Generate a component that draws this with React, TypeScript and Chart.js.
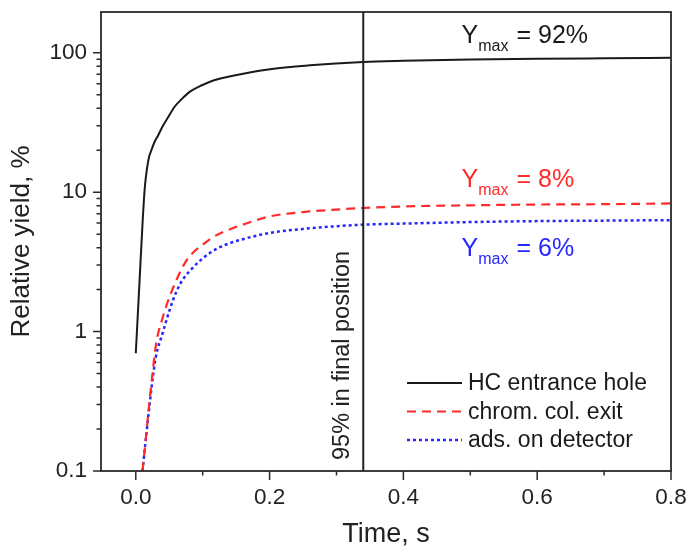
import React, { useEffect, useRef } from 'react';
import { Chart, registerables } from 'chart.js';

Chart.register(...registerables);

const FONT = '"Liberation Sans", Arial, Helvetica, sans-serif';

// Time axis (s) and relative yields (%)
const TIME_HC = [0, 0.006, 0.0105, 0.0135, 0.0165, 0.02, 0.024, 0.028, 0.033, 0.04, 0.048, 0.058, 0.068, 0.081, 0.098, 0.118, 0.138, 0.198, 0.26, 0.34, 0.4, 0.5, 0.6, 0.7, 0.8];
const YIELD_HC = [0.7, 2.5, 6.5, 10.8, 14.5, 18, 20.4, 22.9, 25.3, 29.6, 34.3, 41, 46.2, 52.6, 58.2, 63.8, 67.3, 75.9, 81.3, 85.9, 87.5, 89.3, 90.5, 91.3, 92];

const TIME_LATE = [0.01, 0.015, 0.02, 0.025, 0.03, 0.04, 0.05, 0.06, 0.07, 0.08, 0.1, 0.12, 0.14, 0.16, 0.2, 0.25, 0.3, 0.34, 0.4, 0.5, 0.6, 0.7, 0.8];
const YIELD_EXIT = [0.1, 0.17, 0.3, 0.5, 0.8, 1.25, 1.75, 2.3, 2.9, 3.45, 4.2, 4.9, 5.4, 5.85, 6.7, 7.2, 7.5, 7.7, 7.9, 8.05, 8.15, 8.2, 8.3];
const YIELD_DET = [0.1, 0.17, 0.28, 0.45, 0.66, 0.97, 1.4, 1.9, 2.35, 2.7, 3.35, 3.9, 4.3, 4.6, 5.1, 5.45, 5.7, 5.85, 5.95, 6.1, 6.2, 6.25, 6.3];

const SERIES_LABELS = ['HC entrance hole', 'chrom. col. exit', 'ads. on detector'];
const SERIES_COLORS = ['#1a1a1a', '#ff2b2b', '#2626ff'];

const X_TICKS = [0, 0.2, 0.4, 0.6, 0.8];
const X_MINOR = [0.1, 0.3, 0.5, 0.7];
const Y_TICKS = [0.1, 1, 10, 100];
const Y_MINOR = [0.2, 0.3, 0.4, 0.5, 0.6, 0.7, 0.8, 0.9, 2, 3, 4, 5, 6, 7, 8, 9, 20, 30, 40, 50, 60, 70, 80, 90];

const MARKER_TIME = 0.34;
const MARKER_LABEL = '95% in final position';

const YMAX_VALUES = ['= 92%', '= 8%', '= 6%'];
const YMAX_AT_X = [0.487, 0.487, 0.487];
const YMAX_AT_Y = [118, 10.9, 3.5];

const decorPlugin = {
  id: 'decor',
  afterDatasetsDraw(chart: any) {
    const { ctx, chartArea: a, scales } = chart;
    const x = scales.x;
    const y = scales.y;
    ctx.save();

    // vertical marker line
    const mx = x.getPixelForValue(MARKER_TIME);
    ctx.strokeStyle = '#222';
    ctx.lineWidth = 2;
    ctx.setLineDash([]);
    ctx.beginPath();
    ctx.moveTo(mx, a.top);
    ctx.lineTo(mx, a.bottom);
    ctx.stroke();

    // rotated marker label
    ctx.save();
    ctx.translate(mx - 14, a.bottom - 11);
    ctx.rotate(-Math.PI / 2);
    ctx.font = `23.5px ${FONT}`;
    ctx.fillStyle = '#222';
    ctx.textAlign = 'left';
    ctx.textBaseline = 'alphabetic';
    ctx.fillText(MARKER_LABEL, 0, 0);
    ctx.restore();

    // Y_max labels
    YMAX_VALUES.forEach((txt, i) => {
      const px = x.getPixelForValue(YMAX_AT_X[i]);
      const py = y.getPixelForValue(YMAX_AT_Y[i]);
      ctx.fillStyle = SERIES_COLORS[i];
      ctx.textAlign = 'left';
      ctx.textBaseline = 'alphabetic';
      ctx.font = `25px ${FONT}`;
      ctx.fillText('Y', px, py);
      const w1 = ctx.measureText('Y').width;
      ctx.font = `16px ${FONT}`;
      ctx.fillText('max', px + w1, py + 8.5);
      const w2 = ctx.measureText('max').width;
      ctx.font = `25px ${FONT}`;
      ctx.fillText(txt, px + w1 + w2 + 8, py);
    });

    // legend (inside plot, bottom right)
    const datasets = chart.data.datasets;
    const lx0 = a.right - 264;
    const lx1 = lx0 + 55;
    datasets.forEach((ds: any, i: number) => {
      const ly = a.bottom - 88 + i * 28.5;
      ctx.strokeStyle = ds.borderColor;
      ctx.lineWidth = ds.borderWidth;
      ctx.setLineDash(ds.borderDash || []);
      ctx.beginPath();
      ctx.moveTo(lx0, ly);
      ctx.lineTo(lx1, ly);
      ctx.stroke();
      ctx.setLineDash([]);
      ctx.fillStyle = '#1a1a1a';
      ctx.font = `23px ${FONT}`;
      ctx.textAlign = 'left';
      ctx.textBaseline = 'middle';
      ctx.fillText(ds.label, lx1 + 6, ly + 1);
    });

    // frame
    ctx.strokeStyle = '#2a2a2a';
    ctx.lineWidth = 1.8;
    ctx.setLineDash([]);
    ctx.strokeRect(a.left, a.top, a.right - a.left, a.bottom - a.top);

    // ticks
    ctx.lineWidth = 1.5;
    ctx.beginPath();
    X_TICKS.forEach((v) => {
      const p = x.getPixelForValue(v);
      ctx.moveTo(p, a.bottom);
      ctx.lineTo(p, a.bottom + 9);
    });
    X_MINOR.forEach((v) => {
      const p = x.getPixelForValue(v);
      ctx.moveTo(p, a.bottom);
      ctx.lineTo(p, a.bottom + 4.5);
    });
    Y_TICKS.forEach((v) => {
      const p = y.getPixelForValue(v);
      ctx.moveTo(a.left, p);
      ctx.lineTo(a.left - 8, p);
    });
    Y_MINOR.forEach((v) => {
      const p = y.getPixelForValue(v);
      if (p < a.top) return;
      ctx.moveTo(a.left, p);
      ctx.lineTo(a.left - 4.5, p);
    });
    ctx.stroke();

    ctx.restore();
  },
};

export default function App() {
  const ref = useRef<HTMLCanvasElement>(null);

  useEffect(() => {
    if (!ref.current) return;
    const chart = new Chart(ref.current, {
      type: 'line',
      data: {
        datasets: [
          {
            label: SERIES_LABELS[0],
            data: TIME_HC.map((t, i) => ({ x: t, y: YIELD_HC[i] })),
            borderColor: SERIES_COLORS[0],
            borderWidth: 2,
            pointRadius: 0,
            cubicInterpolationMode: 'monotone',
            fill: false,
          },
          {
            label: SERIES_LABELS[1],
            data: TIME_LATE.map((t, i) => ({ x: t, y: YIELD_EXIT[i] })),
            borderColor: SERIES_COLORS[1],
            borderWidth: 2.2,
            borderDash: [9, 6],
            pointRadius: 0,
            cubicInterpolationMode: 'monotone',
            fill: false,
          },
          {
            label: SERIES_LABELS[2],
            data: TIME_LATE.map((t, i) => ({ x: t, y: YIELD_DET[i] })),
            borderColor: SERIES_COLORS[2],
            borderWidth: 2.5,
            borderDash: [3, 3],
            pointRadius: 0,
            cubicInterpolationMode: 'monotone',
            fill: false,
          },
        ],
      },
      options: {
        animation: false,
        responsive: false,
        devicePixelRatio: 1,
        layout: { padding: { top: 12, right: 19, left: 0, bottom: 0 } },
        plugins: {
          legend: { display: false },
          tooltip: { enabled: false },
        },
        scales: {
          x: {
            type: 'linear',
            min: -0.052,
            max: 0.8,
            grid: { display: false },
            border: { display: false },
            afterBuildTicks: (s: any) => {
              s.ticks = X_TICKS.map((v) => ({ value: v }));
            },
            afterFit: (s: any) => {
              s.height = 80;
              s.paddingLeft = 0;
              s.paddingRight = 0;
            },
            ticks: {
              padding: 5,
              color: '#222',
              autoSkip: false,
              maxRotation: 0,
              font: { size: 22.5, family: FONT },
              callback: (v: any) => Number(v).toFixed(1),
            },
            title: {
              display: true,
              text: 'Time, s',
              color: '#222',
              font: { size: 27, family: FONT },
              padding: { top: 0, bottom: 0 },
            },
          },
          y: {
            type: 'logarithmic',
            min: 0.1,
            max: 196,
            grid: { display: false },
            border: { display: false },
            afterBuildTicks: (s: any) => {
              s.ticks = Y_TICKS.map((v) => ({ value: v }));
            },
            afterFit: (s: any) => {
              s.width = 101;
              s.paddingTop = 0;
              s.paddingBottom = 0;
            },
            ticks: {
              padding: 6,
              color: '#222',
              autoSkip: false,
              font: { size: 22.5, family: FONT },
              callback: (v: any) => String(v),
            },
            title: {
              display: true,
              text: 'Relative yield, %',
              color: '#222',
              font: { size: 26, family: FONT },
              padding: { top: 6, bottom: 0 },
            },
          },
        },
      },
      plugins: [decorPlugin],
    } as any);
    return () => chart.destroy();
  }, []);

  return (
    <div style={{ position: 'absolute', left: 0, top: 0, width: 690, height: 551, background: '#fff' }}>
      <canvas ref={ref} width={690} height={551} style={{ width: 690, height: 551, display: 'block' }} />
    </div>
  );
}
